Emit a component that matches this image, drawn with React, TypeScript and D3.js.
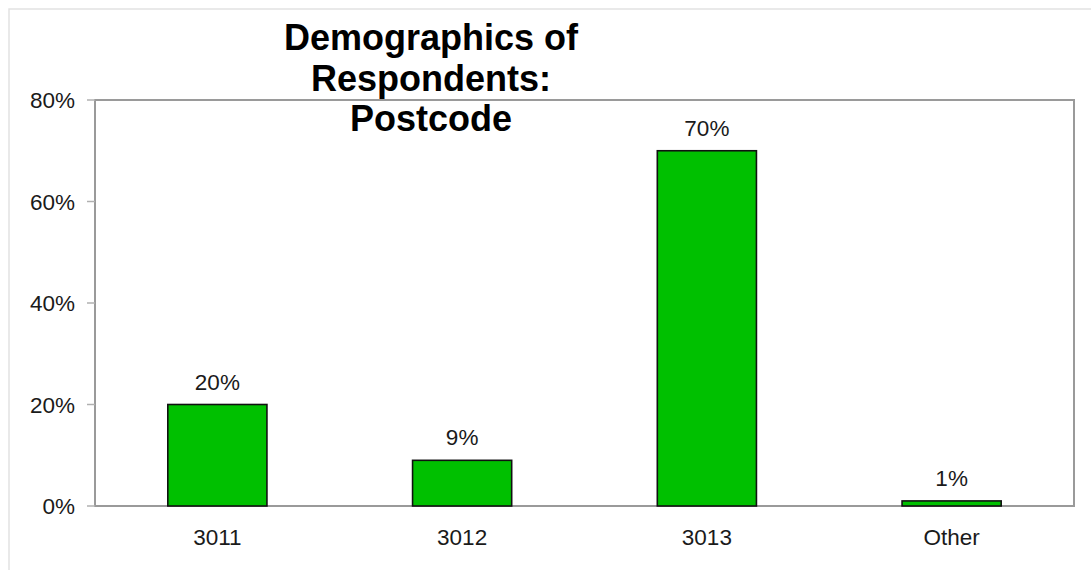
import React from "react";
import * as d3 from "d3";

const categories = ["3011", "3012", "3013", "Other"];
const values = [20, 9, 70, 1];
const yTicks = [0, 20, 40, 60, 80];
const titleLines = ["Demographics of", "Respondents:", "Postcode"];

export default function App() {
  const W = 1091;
  const H = 570;
  const left = 95, right = 1074, top = 100, bottom = 506;
  const font = "'Liberation Sans', Arial, sans-serif";

  const x = d3.scaleBand<string>().domain(categories).range([left, right]).paddingInner(0.595).paddingOuter(0.2975);
  const y = d3.scaleLinear().domain([0, 80]).range([bottom, top]);

  return (
    <svg width={W} height={H} style={{ position: "absolute", left: 0, top: 0, background: "#fff" }}>
      <rect x={9} y={9} width={W + 20} height={H + 20} fill="#fff" stroke="#e2e2e2" strokeWidth={1.5} />
      {/* plot frame */}
      <rect x={left} y={top} width={right - left} height={bottom - top} fill="none" stroke="#9a9a9a" strokeWidth={2} />
      {yTicks.map((t) => (
        <g key={t}>
          <line x1={left - 8} x2={left} y1={y(t)} y2={y(t)} stroke="#b0b0b0" strokeWidth={1.5} />
          <text x={75} y={y(t)} dy="0.36em" textAnchor="end" fontFamily={font} fontSize={22.5} fill="#1a1a1a">
            {t}%
          </text>
        </g>
      ))}
      {categories.map((c, i) => (
        <g key={c}>
          <rect
            x={x(c)!}
            y={y(values[i])}
            width={x.bandwidth()}
            height={y(0) - y(values[i])}
            fill="#00c000"
            stroke="#111"
            strokeWidth={1.6}
          />
          <text x={x(c)! + x.bandwidth() / 2} y={y(values[i]) - 15} textAnchor="middle" fontFamily={font} fontSize={22.5} fill="#1a1a1a">
            {values[i]}%
          </text>
          <text x={x(c)! + x.bandwidth() / 2} y={545} textAnchor="middle" fontFamily={font} fontSize={22.5} fill="#1a1a1a">
            {c}
          </text>
        </g>
      ))}
      {titleLines.map((l, i) => (
        <text key={l} x={431} y={50 + i * 40.5} textAnchor="middle" fontFamily={font} fontWeight="bold" fontSize={36} fill="#000">
          {l}
        </text>
      ))}
    </svg>
  );
}
